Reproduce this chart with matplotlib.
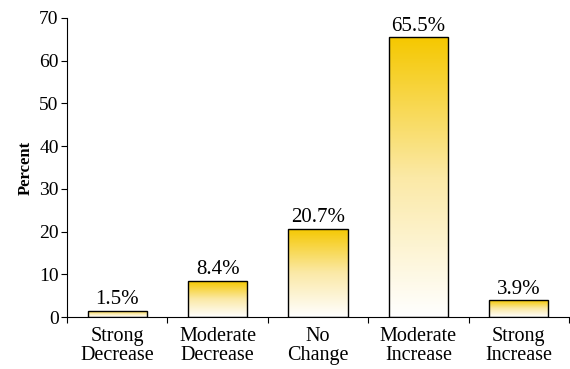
import numpy as np
import matplotlib.pyplot as plt
from matplotlib.colors import LinearSegmentedColormap

categories = ["Strong\nDecrease", "Moderate\nDecrease", "No\nChange",
              "Moderate\nIncrease", "Strong\nIncrease"]
percent = [1.5, 8.4, 20.7, 65.5, 3.9]
y_ticks = [0, 10, 20, 30, 40, 50, 60, 70]

plt.rcParams['font.family'] = ['Liberation Serif', 'DejaVu Serif']

gold = LinearSegmentedColormap.from_list("gold", ["#ffffff", "#fbe9a6", "#f5c800"])

fig = plt.figure(figsize=(5.7, 3.69), dpi=100)
ax = fig.add_axes([67 / 570, 52 / 369, 502 / 570, 299 / 369])

x = np.arange(len(categories))
bars = ax.bar(x, percent, width=0.59, facecolor="none", edgecolor="black", linewidth=1.0, zorder=3)

# vertical gradient fill, clipped to each bar
grad = np.linspace(0, 1, 256).reshape(-1, 1)
for b in bars:
    x0, w, h = b.get_x(), b.get_width(), b.get_height()
    im = ax.imshow(grad, cmap=gold, aspect="auto", origin="lower",
                   extent=[x0, x0 + w, 0, h], zorder=2)
    im.set_clip_path(b)

for xi, v in zip(x, percent):
    ax.text(xi, v + 0.4, f"{v}%", ha="center", va="bottom", fontsize=15)

ax.set_xlim(-0.5, len(categories) - 0.5)
ax.set_ylim(0, 70)
ax.set_yticks(y_ticks)
ax.tick_params(axis="y", labelsize=14, length=4, width=0.8, pad=2)

# category ticks sit between bars, labels centred under bars
ax.set_xticks(np.arange(-0.5, len(categories), 1.0))
ax.set_xticklabels([])
ax.set_xticks(x, minor=True)
ax.set_xticklabels(categories, minor=True, fontsize=14.5, linespacing=1.0)
ax.tick_params(axis="x", which="major", length=4, width=0.8)
ax.tick_params(axis="x", which="minor", length=0, pad=7)

ax.set_ylabel("Percent", fontsize=12, fontweight="bold", labelpad=4)

for side in ["top", "right"]:
    ax.spines[side].set_visible(False)
for side in ["left", "bottom"]:
    ax.spines[side].set_linewidth(0.8)

fig.savefig("out.png", dpi=100)
